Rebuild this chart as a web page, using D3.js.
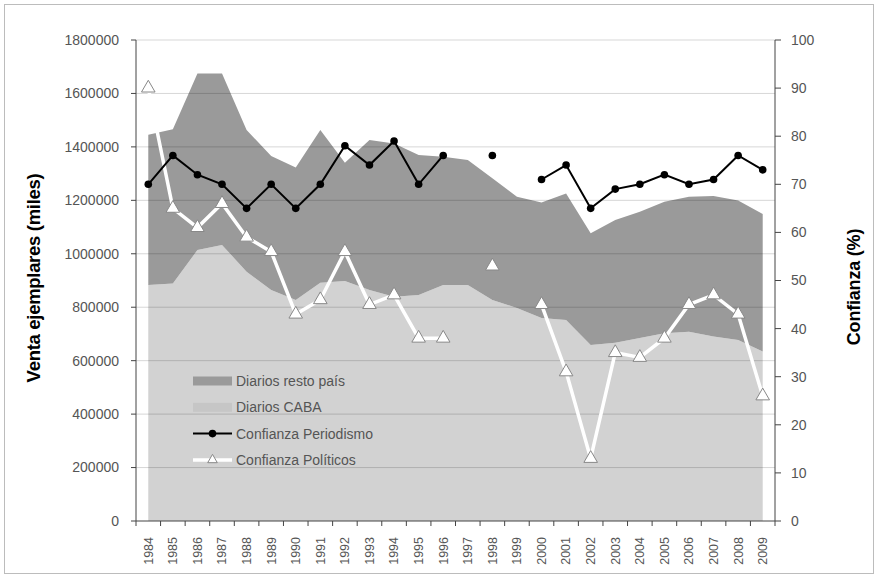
<!DOCTYPE html>
<html>
<head>
<meta charset="utf-8">
<script src="https://cdn.jsdelivr.net/npm/d3@7"></script>
<style>
  body { margin: 0; background: #fff; }
  svg text { font-family: "Liberation Sans", Arial, sans-serif; }
</style>
</head>
<body>
<svg id="chart" width="880" height="579"></svg>
<script>
// years on the category axis
var years = ["1984","1985","1986","1987","1988","1989","1990","1991","1992","1993","1994","1995","1996",
             "1997","1998","1999","2000","2001","2002","2003","2004","2005","2006","2007","2008","2009"];

// sales, thousands of copies
var diariosCaba = [883000, 889000, 1014000, 1033000, 933000, 864000, 827000, 892000, 898000, 864000,
                   839000, 846000, 883000, 883000, 827000, 797000, 760000, 752000, 659000, 667000,
                   685000, 703000, 708000, 690000, 677000, 634000];
var diariosResto = [562000, 577000, 661000, 642000, 530000, 502000, 496000, 571000, 443000, 562000,
                    574000, 524000, 480000, 468000, 456000, 416000, 432000, 474000, 418000, 459000,
                    472000, 492000, 505000, 526000, 522000, 515000];

// trust, percent (null = no survey)
var confPeriodismo = [70, 76, 72, 70, 65, 70, 65, 70, 78, 74, 79, 70, 76, null, 76, null,
                      71, 74, 65, 69, 70, 72, 70, 71, 76, 73];
var confPoliticos = [90, 65, 61, 66, 59, 56, 43, 46, 56, 45, 47, 38, 38, null, 53, null,
                     45, 31, 13, 35, 34, 38, 45, 47, 43, 26];

var leftTicks = [0, 200000, 400000, 600000, 800000, 1000000, 1200000, 1400000, 1600000, 1800000];
var rightTicks = [0, 10, 20, 30, 40, 50, 60, 70, 80, 90, 100];

var plotLeft = 136, plotRight = 775, plotTop = 40, plotBottom = 521;
var svg = d3.select("#chart");

// outer frame
svg.append("rect")
    .attr("x", 4.5).attr("y", 4.5)
    .attr("width", 869).attr("height", 569)
    .attr("fill", "none").attr("stroke", "#bcbcbc");

var x = d3.scaleBand().domain(years).range([plotLeft, plotRight]).padding(0);
var bw = x.bandwidth();
function cx(d) { return x(d) + bw / 2; }

var yL = d3.scaleLinear().domain([0, 1800000]).range([plotBottom, plotTop]);
var yR = d3.scaleLinear().domain([0, 100]).range([plotBottom, plotTop]);

var rows = years.map(function(y, i) {
    return {year: y, caba: diariosCaba[i], resto: diariosResto[i]};
});
var stacked = d3.stack().keys(["caba", "resto"])(rows);
var areaColors = {caba: "#d2d2d2", resto: "#9a9a9a"};

var area = d3.area()
    .x(function(d) { return cx(d.data.year); })
    .y0(function(d) { return yL(d[0]); })
    .y1(function(d) { return yL(d[1]); });

svg.selectAll(".area")
    .data(stacked)
    .enter().append("path")
    .attr("class", "area")
    .attr("d", area)
    .attr("fill", function(d) { return areaColors[d.key]; });

// gridlines over the areas
svg.selectAll(".grid")
    .data(leftTicks.slice(1))
    .enter().append("line")
    .attr("class", "grid")
    .attr("x1", plotLeft).attr("x2", plotRight)
    .attr("y1", function(d) { return yL(d); })
    .attr("y2", function(d) { return yL(d); })
    .attr("stroke", "#000").attr("stroke-opacity", 0.16);

// left axis
svg.append("line").attr("x1", plotLeft).attr("x2", plotLeft).attr("y1", plotTop).attr("y2", plotBottom)
    .attr("stroke", "#444");
svg.selectAll(".ltick").data(leftTicks).enter().append("line")
    .attr("x1", plotLeft - 5).attr("x2", plotLeft)
    .attr("y1", function(d) { return yL(d); }).attr("y2", function(d) { return yL(d); })
    .attr("stroke", "#444");
svg.selectAll(".llab").data(leftTicks).enter().append("text")
    .attr("x", 119).attr("y", function(d) { return yL(d); })
    .attr("dy", "0.35em").attr("text-anchor", "end")
    .attr("font-size", 14).attr("fill", "#555")
    .text(function(d) { return d; });

// right axis
svg.append("line").attr("x1", plotRight).attr("x2", plotRight).attr("y1", plotTop).attr("y2", plotBottom)
    .attr("stroke", "#444");
svg.selectAll(".rtick").data(rightTicks).enter().append("line")
    .attr("x1", plotRight).attr("x2", plotRight + 6)
    .attr("y1", function(d) { return yR(d); }).attr("y2", function(d) { return yR(d); })
    .attr("stroke", "#444");
svg.selectAll(".rlab").data(rightTicks).enter().append("text")
    .attr("x", 791).attr("y", function(d) { return yR(d); })
    .attr("dy", "0.35em")
    .attr("font-size", 14).attr("fill", "#555")
    .text(function(d) { return d; });

// bottom axis
svg.append("line").attr("x1", plotLeft).attr("x2", plotRight).attr("y1", plotBottom).attr("y2", plotBottom)
    .attr("stroke", "#444");
svg.selectAll(".btick").data(d3.range(years.length + 1)).enter().append("line")
    .attr("x1", function(i) { return plotLeft + i * bw; })
    .attr("x2", function(i) { return plotLeft + i * bw; })
    .attr("y1", plotBottom).attr("y2", plotBottom + 5)
    .attr("stroke", "#444");
svg.selectAll(".blab").data(years).enter().append("text")
    .attr("transform", function(d) { return "translate(" + cx(d) + "," + 537 + ") rotate(-90)"; })
    .attr("dy", "0.35em").attr("text-anchor", "end")
    .attr("font-size", 12.5).attr("fill", "#555")
    .text(function(d) { return d; });

// axis titles
svg.append("text")
    .attr("transform", "translate(40,278) rotate(-90)")
    .attr("text-anchor", "middle")
    .attr("font-size", 18.5).attr("font-weight", "bold").attr("letter-spacing", -0.3)
    .text("Venta ejemplares (miles)");
svg.append("text")
    .attr("transform", "translate(860,287) rotate(-90)")
    .attr("text-anchor", "middle")
    .attr("font-size", 18).attr("font-weight", "bold").attr("letter-spacing", -0.2)
    .text("Confianza (%)");

// trust lines
var line = d3.line()
    .defined(function(d) { return d.v != null; })
    .x(function(d) { return cx(d.year); })
    .y(function(d) { return yR(d.v); });

var perio = years.map(function(y, i) { return {year: y, v: confPeriodismo[i]}; });
var polit = years.map(function(y, i) { return {year: y, v: confPoliticos[i]}; });

svg.append("path").datum(polit).attr("d", line)
    .attr("fill", "none").attr("stroke", "#fff").attr("stroke-width", 3.5);
svg.append("path").datum(perio).attr("d", line)
    .attr("fill", "none").attr("stroke", "#000").attr("stroke-width", 2);

svg.selectAll(".dot").data(perio.filter(function(d) { return d.v != null; }))
    .enter().append("circle")
    .attr("cx", function(d) { return cx(d.year); })
    .attr("cy", function(d) { return yR(d.v); })
    .attr("r", 3.8).attr("fill", "#000");

var tri = d3.symbol().type(d3.symbolTriangle).size(80);
svg.selectAll(".tri").data(polit.filter(function(d) { return d.v != null; }))
    .enter().append("path")
    .attr("transform", function(d) { return "translate(" + cx(d.year) + "," + yR(d.v) + ")"; })
    .attr("d", tri)
    .attr("fill", "#fff").attr("stroke", "#888").attr("stroke-width", 1);

// legend
var legend = [
    {name: "Diarios resto país", kind: "area", color: areaColors.resto},
    {name: "Diarios CABA", kind: "area", color: "#c6c6c6"},
    {name: "Confianza Periodismo", kind: "dot"},
    {name: "Confianza Políticos", kind: "tri"}
];
var lg = svg.selectAll(".leg").data(legend).enter().append("g")
    .attr("transform", function(d, i) { return "translate(193," + (381 + i * 26.3) + ")"; });
lg.filter(function(d) { return d.kind == "area"; }).append("rect")
    .attr("x", 0).attr("y", -4.5).attr("width", 39).attr("height", 9)
    .attr("fill", function(d) { return d.color; });
lg.filter(function(d) { return d.kind == "dot"; }).append("line")
    .attr("x1", 0).attr("x2", 39).attr("stroke", "#000").attr("stroke-width", 2);
lg.filter(function(d) { return d.kind == "dot"; }).append("circle")
    .attr("cx", 19.5).attr("r", 3.8).attr("fill", "#000");
lg.filter(function(d) { return d.kind == "tri"; }).append("line")
    .attr("x1", 0).attr("x2", 39).attr("stroke", "#fff").attr("stroke-width", 3.5);
lg.filter(function(d) { return d.kind == "tri"; }).append("path")
    .attr("transform", "translate(19.5,0)")
    .attr("d", d3.symbol().type(d3.symbolTriangle).size(40))
    .attr("fill", "#fff").attr("stroke", "#888");
lg.append("text")
    .attr("x", 43).attr("dy", "0.35em")
    .attr("font-size", 14).attr("fill", "#555")
    .text(function(d) { return d.name; });
</script>
</body>
</html>
